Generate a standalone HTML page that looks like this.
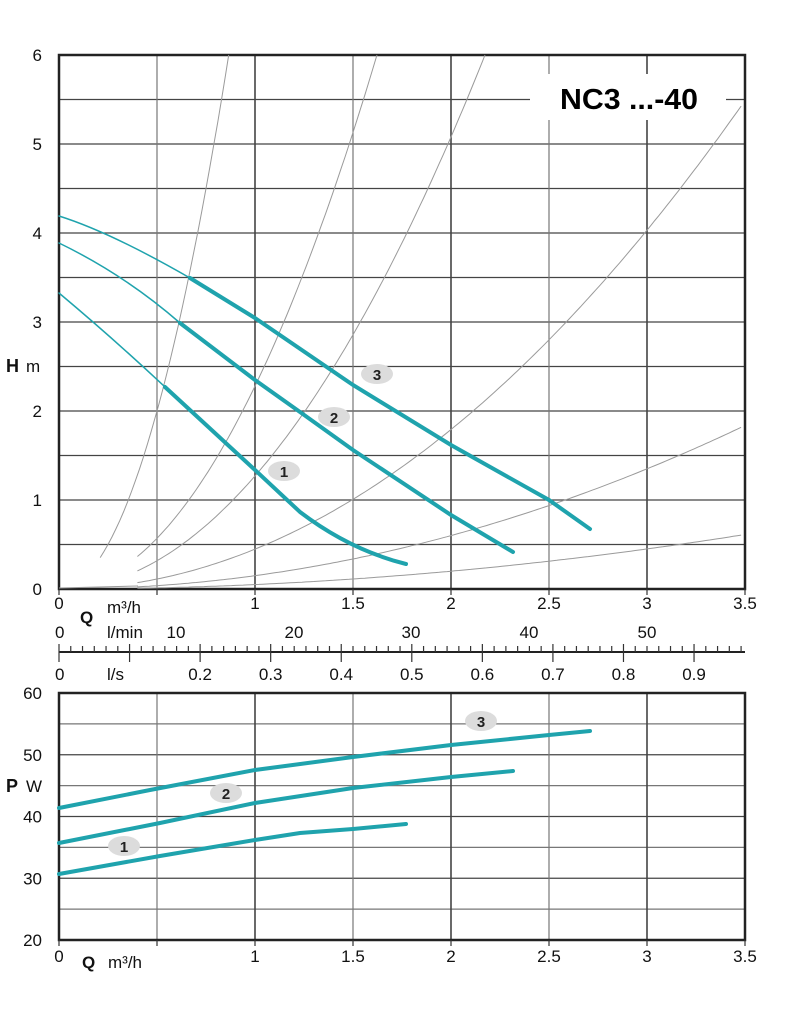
<!DOCTYPE html>
<html><head><meta charset="utf-8"><style>
body{margin:0;background:#fff;}
svg{display:block;font-family:"Liberation Sans",sans-serif;}
</style></head><body>
<svg id="s" width="794" height="1012" viewBox="0 0 794 1012" xmlns="http://www.w3.org/2000/svg">
<g id="grid"></g>
<g id="sys" fill="none" stroke="#9a9a9a" stroke-width="1"></g>
<rect x="530" y="74" width="196" height="46" fill="#fff"/>
<text x="560" y="109" font-size="29" font-weight="bold" textLength="138" lengthAdjust="spacingAndGlyphs">NC3 ...-40</text>
<g fill="none" stroke="#1fa3ad" stroke-linecap="round">
<path stroke-width="1.5" d="M59,216 Q110,232 190,278 M59,243 Q125,275 180,323 M59,293 Q115,340 165,387"/>
<path stroke-width="4" d="M190,278 L255,318 L353,385 L451,445 L549,500 L590,529"/>
<path stroke-width="4" d="M180,323 L255,380 L300,412 L353,450 L451,515 L513,552"/>
<path stroke-width="4" d="M165,387 L255,470 L300,512 Q350,550 406,564"/>
<path stroke-width="4" d="M59,808 L150,790 L255,770 L353,757 L451,745 L549,735 L590,731"/>
<path stroke-width="4" d="M59,843 L160,823 L255,803 L353,788 L451,777 L513,771"/>
<path stroke-width="4" d="M59,874 L160,856 L255,840 L300,833 L353,829 L406,824"/>
</g>
<g fill="#dcdcdc"><ellipse cx="377" cy="374" rx="16" ry="10"/><ellipse cx="334" cy="417" rx="16" ry="10"/><ellipse cx="284" cy="471" rx="16" ry="10"/>
<ellipse cx="481" cy="721" rx="16" ry="10"/><ellipse cx="226" cy="793" rx="16" ry="10"/><ellipse cx="124" cy="846" rx="16" ry="10"/></g>
<g font-size="15" font-weight="bold" text-anchor="middle" fill="#222"><text x="377" y="380">3</text><text x="334" y="423">2</text><text x="284" y="477">1</text><text x="481" y="727">3</text><text x="226" y="799">2</text><text x="124" y="852">1</text></g>
<g font-size="17" fill="#111" id="lab"></g>
</svg>
<script>
const NS="http://www.w3.org/2000/svg";
function el(p,t,a,txt){const e=document.createElementNS(NS,t);for(const k in a)e.setAttribute(k,a[k]);if(txt!=null)e.textContent=txt;document.getElementById(p).appendChild(e);return e;}
const X=q=>59+196*q, Y=h=>589-89*h, YP=p=>940-6.175*(p-20);
for(let i=1;i<12;i++){el("grid","line",{x1:59,x2:745,y1:Y(i/2),y2:Y(i/2),stroke:"#444","stroke-width":1.2});}
for(let i=1;i<7;i++){el("grid","line",{x1:X(i/2),x2:X(i/2),y1:55,y2:589,stroke:i%2?"#777":"#444","stroke-width":i%2?1.2:1.6});}
el("grid","rect",{x:59,y:55,width:686,height:534,fill:"none",stroke:"#222","stroke-width":2.5});
for(let i=0;i<8;i++)el("grid","line",{x1:X(i/2),x2:X(i/2),y1:589,y2:595,stroke:"#333","stroke-width":1.2});
for(let p=25;p<60;p+=5){el("grid","line",{x1:59,x2:745,y1:YP(p),y2:YP(p),stroke:p%10?"#777":"#444","stroke-width":1.2});}
for(let i=1;i<7;i++){el("grid","line",{x1:X(i/2),x2:X(i/2),y1:693,y2:940,stroke:i%2?"#777":"#444","stroke-width":i%2?1.2:1.6});}
el("grid","rect",{x:59,y:693,width:686,height:247,fill:"none",stroke:"#222","stroke-width":2.5});
for(let i=0;i<8;i++)el("grid","line",{x1:X(i/2),x2:X(i/2),y1:940,y2:946,stroke:"#333","stroke-width":1.2});
el("grid","line",{x1:59,x2:745,y1:652,y2:652,stroke:"#222","stroke-width":2});
for(let i=0;i*11.76<=686;i++){const x=59+i*11.76;el("grid","line",{x1:x,x2:x,y1:i%6==0?644:646,y2:i%6==0?662:652,stroke:"#333","stroke-width":1.2});}
[[8,0.21],[2.28,0.4],[1.27,0.4],[0.448,0.4],[0.15,0.4],[0.05,0.4]].forEach(([k,q0])=>{let d="";for(let q=q0;q<=3.5;q+=0.02){let h=k*q*q;if(h>6){q=Math.sqrt(6/k);h=6;}d+=(d?"L":"M")+X(q).toFixed(1)+","+Y(h).toFixed(1);if(h>=6)break;}el("sys","path",{d});});
el("sys","path",{d:"M59,588 L138,586"});
const L=(x,y,t,o={})=>el("lab","text",Object.assign({x,y},o),t);
for(let i=0;i<=6;i++)L(42,Y(i)+6,String(i),{"text-anchor":"end"});
L(6,372,"H",{"font-weight":"bold","font-size":18});L(26,372,"m");
[["0",0],["1",1],["1.5",1.5],["2",2],["2.5",2.5],["3",3],["3.5",3.5]].forEach(([t,q])=>{L(X(q),609,t,{"text-anchor":"middle"});L(X(q),962,t,{"text-anchor":"middle"});});
L(80,623,"Q",{"font-weight":"bold"});L(107,613,"m³/h");
L(55,638,"0");L(107,638,"l/min");[["10",176],["20",294],["30",411],["40",529],["50",647]].forEach(([t,x])=>L(x,638,t,{"text-anchor":"middle"}));
L(55,680,"0");L(107,680,"l/s");[0.2,0.3,0.4,0.5,0.6,0.7,0.8,0.9].forEach((v,i)=>L(59+70.56*(i+2),680,String(v),{"text-anchor":"middle"}));
[60,50,40,30,20].forEach(p=>L(42,YP(p)+6,String(p),{"text-anchor":"end"}));
L(6,792,"P",{"font-weight":"bold","font-size":18});L(26,792,"W");
L(82,968,"Q",{"font-weight":"bold"});L(108,968,"m³/h");
</script>
</body></html>
